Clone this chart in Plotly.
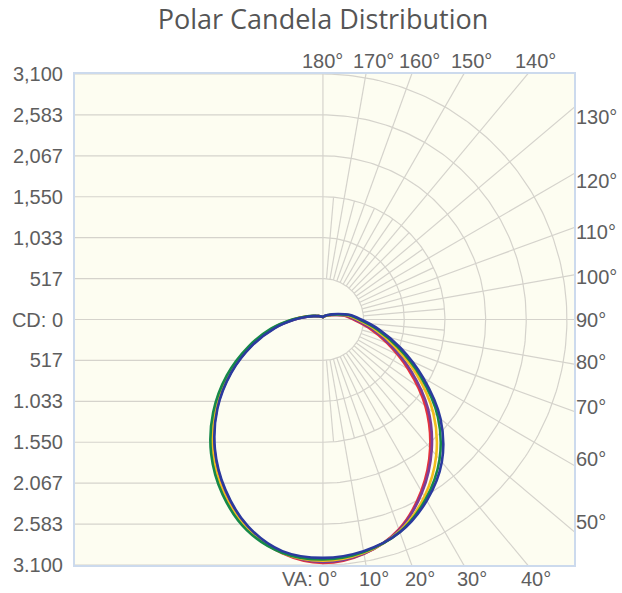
import numpy as np
import plotly.graph_objects as go

# ---------------- data ----------------
chart_title = "Polar Candela Distribution"

# vertical angles (degrees) at which candela values are given
va_deg = [0, 10, 20, 30, 40, 50, 60, 70, 80, 90, 100, 110, 120, 130, 140, 150, 160, 170, 180]

series_names = ["Plane A", "Plane B", "Plane C", "Plane D", "Plane E"]
series_colors = ["#e5323d", "#7a3d98", "#f2bd1e", "#16894a", "#2b3a9e"]

# right half (candela)
red_right = [3075, 3005, 2820, 2500, 2120, 1700, 1250, 870, 590, 390, 280, 165, 110, 80, 62, 49, 41, 34, 30]
purple_right = [3060, 3000, 2830, 2520, 2150, 1740, 1290, 900, 620, 410, 290, 170, 112, 81, 63, 50, 41, 35, 30]
yellow_right = [3045, 2990, 2845, 2580, 2240, 1830, 1370, 960, 660, 440, 310, 180, 118, 84, 65, 51, 42, 36, 31]
green_right = [3030, 2980, 2855, 2615, 2305, 1905, 1430, 1010, 695, 465, 330, 190, 124, 87, 67, 53, 44, 37, 31]
blue_right = [3010, 2970, 2860, 2640, 2350, 1950, 1470, 1050, 725, 485, 340, 205, 130, 90, 70, 55, 45, 38, 32]

# left half (candela)
red_left = [3075, 2995, 2800, 2500, 2155, 1770, 1365, 975, 640, 370, 210, 128, 86, 66, 53, 44, 37, 33, 30]
purple_left = [3060, 2985, 2790, 2490, 2145, 1760, 1355, 965, 630, 365, 206, 126, 85, 66, 52, 43, 36, 33, 30]
yellow_left = [3045, 2990, 2815, 2525, 2180, 1790, 1385, 990, 655, 380, 215, 131, 88, 68, 54, 44, 37, 33, 31]
green_left = [3030, 2990, 2830, 2550, 2210, 1820, 1410, 1010, 670, 390, 220, 134, 90, 70, 55, 45, 38, 34, 31]
blue_left = [3010, 2970, 2780, 2480, 2135, 1750, 1345, 955, 620, 360, 203, 124, 84, 65, 52, 43, 36, 32, 32]

cd_tick_values = [3100, 2583, 2067, 1550, 1033, 517, 0, -517, -1033, -1550, -2067, -2583, -3100]
cd_tick_labels = ["3,100", "2,583", "2,067", "1,550", "1,033", "517", "CD: 0",
                  "517", "1.033", "1.550", "2.067", "2.583", "3.100"]
ring_values = [517, 1033, 1550, 2067, 2583, 3100]

va_bottom_labels = [0, 10, 20, 30, 40]
va_top_labels = [180, 170, 160, 150, 140]
va_right_labels = [130, 120, 110, 100, 90, 80, 70, 60, 50]

# ---------------- figure ----------------
X_MIN, X_MAX = -3150, 3190
Y_MIN, Y_MAX = -3100, 3100
GRID = "#d5d3cc"
LABEL_FONT = dict(family="Liberation Sans, Arial, sans-serif", size=20, color="#5e5e5e")
FIG_W, FIG_H = 622, 593

fig = go.Figure()

def add_line(xs, ys, color=GRID, width=1.2):
    fig.add_trace(go.Scatter(x=xs, y=ys, mode="lines", line=dict(color=color, width=width),
                             hoverinfo="skip", showlegend=False))

# left-half horizontal grid lines
for v in cd_tick_values:
    if v == 0:
        add_line([X_MIN, X_MAX], [0, 0])
    else:
        add_line([X_MIN, 0], [v, v])
# vertical center line
add_line([0, 0], [Y_MIN, Y_MAX])
# right-half arcs
t = np.radians(np.linspace(0, 180, 181))
for r in ring_values:
    add_line(r * np.sin(t), -r * np.cos(t))
# radial lines
for a in range(10, 180, 10):
    th = np.radians(a)
    add_line([517 * np.sin(th), 8000 * np.sin(th)], [-517 * np.cos(th), -8000 * np.cos(th)])
for a in range(5, 180, 10):
    th = np.radians(a)
    add_line([517 * np.sin(th), 1550 * np.sin(th)], [-517 * np.cos(th), -1550 * np.cos(th)])

# candela curves
rights = [red_right, purple_right, yellow_right, green_right, blue_right]
lefts = [red_left, purple_left, yellow_left, green_left, blue_left]
th = np.radians(va_deg)
for name, color, rv, lv in zip(series_names, series_colors, rights, lefts):
    rv = np.array(rv, float)
    lv = np.array(lv, float)
    xr, yr = rv * np.sin(th), -rv * np.cos(th)
    xl, yl = -lv * np.sin(th), -lv * np.cos(th)
    xs = np.concatenate([xr, xl[::-1]])
    ys = np.concatenate([yr, yl[::-1]])
    fig.add_trace(go.Scatter(x=xs, y=ys, mode="lines", name=name,
                             line=dict(color=color, width=2.6, shape="spline", smoothing=1.0),
                             showlegend=False))

annotations = []
for a in va_bottom_labels:
    if a == 0:
        annotations.append(dict(x=0, y=Y_MIN, text="VA: 0°", xanchor="right", yanchor="top",
                                xshift=16, yshift=-1, showarrow=False, font=LABEL_FONT))
    else:
        annotations.append(dict(x=-Y_MIN * np.tan(np.radians(a)), y=Y_MIN, text=f"{a}°",
                                xanchor="center", yanchor="top", xshift=8, yshift=-1,
                                showarrow=False, font=LABEL_FONT))
for a in va_top_labels:
    annotations.append(dict(x=Y_MAX * np.tan(np.radians(180 - a)), y=Y_MAX, text=f"{a}°",
                            xanchor="center", yanchor="bottom", xshift=0 if a == 180 else 8,
                            yshift=0, showarrow=False, font=LABEL_FONT))
for a in va_right_labels:
    annotations.append(dict(x=X_MAX, y=3040 * np.tan(np.radians(a - 90)), text=f"{a}°",
                            xanchor="left", yanchor="middle", xshift=0,
                            showarrow=False, font=LABEL_FONT))

fig.update_layout(
    width=FIG_W, height=FIG_H,
    margin=dict(l=73, r=48, t=74, b=28),
    paper_bgcolor="white",
    plot_bgcolor="#fdfdf1",
    title=dict(text=chart_title, x=323 / FIG_W, xanchor="center", y=1 - 20 / FIG_H,
               yanchor="middle",
               font=dict(family="Open Sans, sans-serif", size=27, color="#555555")),
    annotations=annotations,
    showlegend=False,
    hovermode=False,
)
fig.update_xaxes(range=[X_MIN, X_MAX], showgrid=False, zeroline=False, showticklabels=False,
                 showline=True, mirror=True, linecolor="#ccdaed", linewidth=2, fixedrange=True)
fig.update_yaxes(range=[Y_MIN, Y_MAX], showgrid=False, zeroline=False,
                 tickvals=cd_tick_values, ticktext=cd_tick_labels, tickfont=LABEL_FONT,
                 ticklabelstandoff=6,
                 showline=True, mirror=True, linecolor="#ccdaed", linewidth=2, fixedrange=True)

# remove the browser's default 8px body margin so the figure sits at the page origin
fig.write_html("out.html", config={"displayModeBar": False},
               post_script="document.body.style.margin='0';document.body.style.overflow='hidden';")
